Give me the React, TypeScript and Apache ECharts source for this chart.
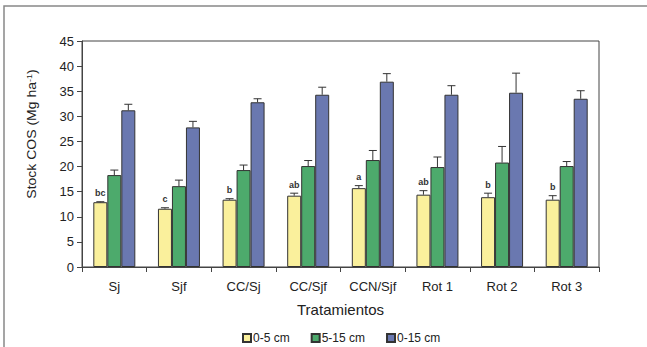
import React, { useEffect, useRef } from "react";
import * as echarts from "echarts";

const categories = ["Sj", "Sjf", "CC/Sj", "CC/Sjf", "CCN/Sjf", "Rot 1", "Rot 2", "Rot 3"];
const seriesNames = ["0-5 cm", "5-15 cm", "0-15 cm"];
const v0_5 = [12.9, 11.6, 13.4, 14.2, 15.7, 14.4, 13.9, 13.4];
const e0_5 = [13.0, 11.8, 13.6, 14.7, 16.2, 15.2, 14.7, 14.2];
const v5_15 = [18.3, 16.1, 19.3, 20.1, 21.3, 19.9, 20.8, 20.1];
const e5_15 = [19.3, 17.3, 20.3, 21.2, 23.2, 21.9, 24.0, 21.0];
const v0_15 = [31.2, 27.8, 32.8, 34.3, 36.9, 34.3, 34.7, 33.5];
const e0_15 = [32.4, 29.0, 33.5, 35.8, 38.5, 36.1, 38.6, 35.1];
const letters = ["bc", "c", "b", "ab", "a", "ab", "b", "b"];
const colors = ["#FAF09C", "#4DAA6C", "#6A78B0"];

const BAR_W = 14;
const FONT = "Liberation Sans, Arial, sans-serif";

export default function App() {
  const ref = useRef<HTMLDivElement>(null);
  useEffect(() => {
    if (!ref.current) return;
    const chart = echarts.init(ref.current, null, { renderer: "svg" });
    const values = [v0_5, v5_15, v0_15];
    const errs = [e0_5, e5_15, e0_15];
    const errData: any[] = [];
    for (let s = 0; s < 3; s++) {
      for (let i = 0; i < categories.length; i++) {
        errData.push([i, values[s][i], errs[s][i], s, s === 0 ? letters[i] : ""]);
      }
    }
    chart.setOption({
      animation: false,
      textStyle: { fontFamily: FONT },
      grid: { left: 82, top: 41, right: 48, bottom: 80, show: true, borderColor: "#444", borderWidth: 1 },
      xAxis: {
        type: "category",
        data: categories,
        axisLine: { lineStyle: { color: "#444", width: 1 } },
        axisTick: { show: true, length: 5, lineStyle: { color: "#444" } },
        axisLabel: { color: "#222", fontSize: 13, margin: 13, fontFamily: FONT },
        name: "Tratamientos",
        nameLocation: "middle",
        nameGap: 35,
        nameTextStyle: { color: "#222", fontSize: 15, fontFamily: FONT },
      },
      yAxis: {
        type: "value",
        min: 0,
        max: 45,
        interval: 5,
        splitLine: { show: false },
        axisLine: { show: true, lineStyle: { color: "#444", width: 1 } },
        axisTick: { show: true, length: 5, lineStyle: { color: "#444" } },
        axisLabel: { color: "#222", fontSize: 13, margin: 8, fontFamily: FONT },
      },
      legend: {
        left: 237,
        top: 327,
        itemWidth: 8,
        itemHeight: 8,
        itemGap: 21,
        icon: "rect",
        textStyle: { color: "#222", fontSize: 12, fontFamily: FONT, padding: [0, 0, 0, -3] },
        data: seriesNames,
      },
      graphic: [
        {
          type: "polyline",
          shape: { points: [[4, 347], [4, 6], [647, 6]] },
          style: { stroke: "#888", lineWidth: 1.5, fill: "none" },
          silent: true,
        },
        {
          type: "text",
          x: 32,
          y: 134,
          rotation: Math.PI / 2,
          scaleY: 0.86,
          style: {
            text: "{a|Stock COS (Mg ha}{s|-1}{a|)}",
            align: "center",
            verticalAlign: "middle",
            rich: {
              a: { fontSize: 14, fill: "#222", fontFamily: FONT },
              s: { fontSize: 9, fill: "#222", fontFamily: FONT, verticalAlign: "top", padding: [0, 0, 6, 0] },
            },
          },
        },
      ],
      series: [
        ...seriesNames.map((n, s) => ({
          name: n,
          type: "bar",
          data: values[s],
          barWidth: BAR_W,
          barGap: "0%",
          itemStyle: { color: colors[s], borderColor: "#333", borderWidth: 1 },
        })),
        {
          type: "custom",
          data: errData,
          z: 5,
          encode: { x: 0, y: 1 },
          renderItem: (params: any, api: any) => {
            const i = api.value(0);
            const v = api.value(1);
            const e = api.value(2);
            const s = api.value(3);
            const lbl = errData[params.dataIndex][4];
            const base = api.coord([i, v]);
            const top = api.coord([i, e]);
            const x = base[0] + (s - 1) * BAR_W;
            const cap = 4;
            const children: any[] = [
              { type: "line", shape: { x1: x, y1: base[1], x2: x, y2: top[1] }, style: { stroke: "#333", lineWidth: 1 } },
              { type: "line", shape: { x1: x - cap, y1: top[1], x2: x + cap, y2: top[1] }, style: { stroke: "#333", lineWidth: 1 } },
            ];
            if (lbl) {
              children.push({
                type: "text",
                x: x,
                y: top[1] - 4,
                style: { text: lbl, align: "center", verticalAlign: "bottom", fontSize: 9, fontWeight: "bold", fill: "#333", fontFamily: FONT },
              });
            }
            return { type: "group", children };
          },
        },
      ],
    });
    return () => chart.dispose();
  }, []);
  return <div ref={ref} style={{ width: 647, height: 347, position: "absolute", left: 0, top: 0 }} />;
}
